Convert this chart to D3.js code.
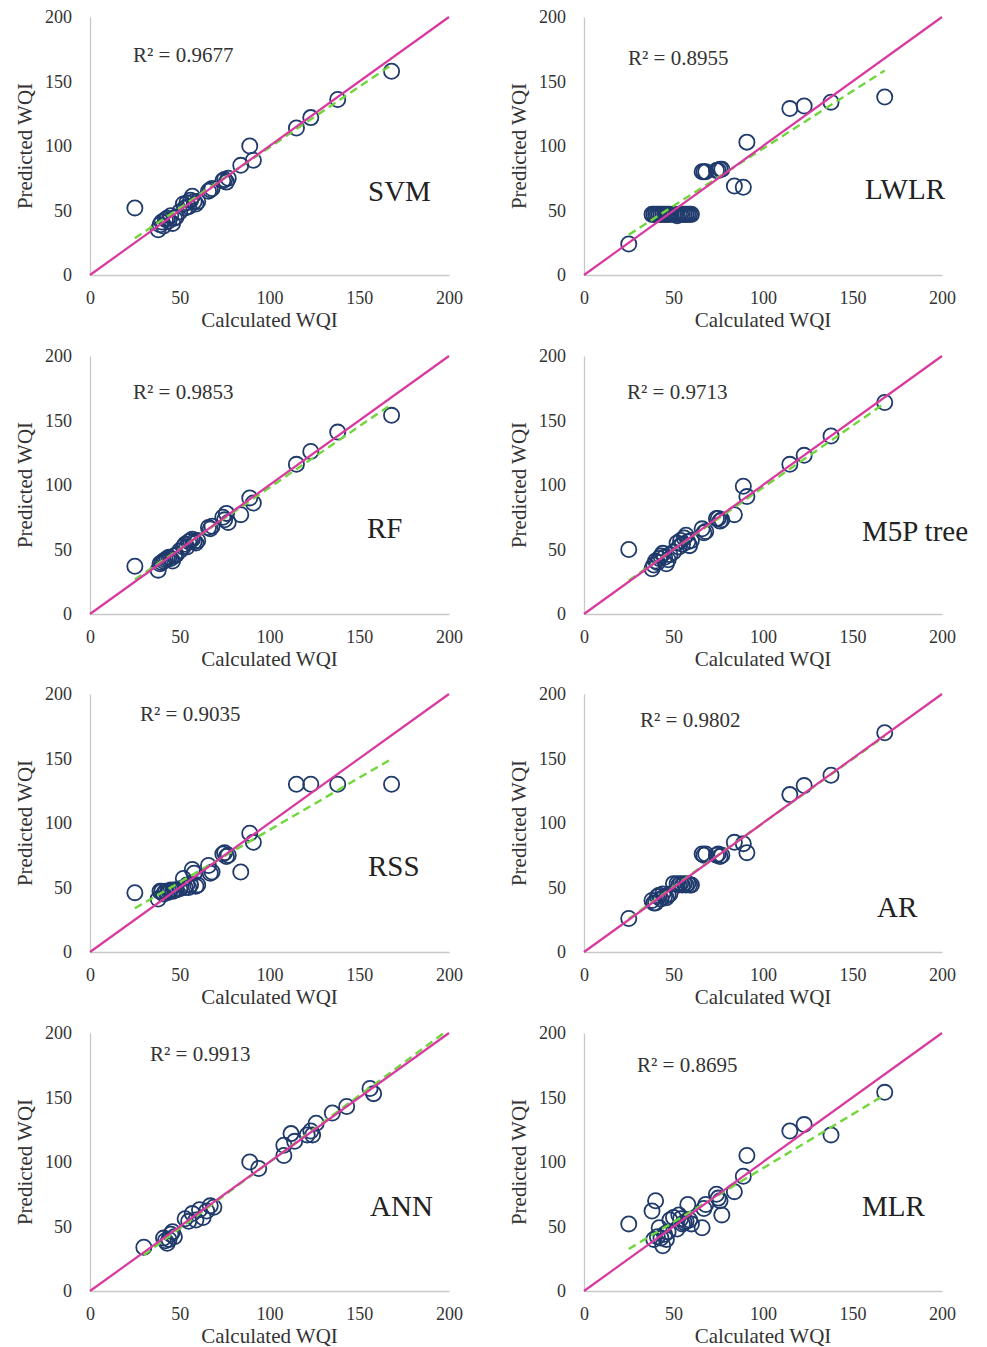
<!DOCTYPE html>
<html><head><meta charset="utf-8">
<script src="https://cdn.jsdelivr.net/npm/d3@7"></script>
<style>body{margin:0;background:#fff}svg{display:block}</style>
</head><body>
<script>
// ---------- DATA ----------
const models = ["SVM", "LWLR", "RF", "M5P tree", "RSS", "AR", "ANN", "MLR"];
const r2Values = ["0.9677", "0.8955", "0.9853", "0.9713", "0.9035", "0.9802", "0.9913", "0.8695"];
const ticks = [0, 50, 100, 150, 200];

const calcX = [25, 38, 39, 40, 41, 42, 43, 44, 45, 46, 47, 48, 50, 52, 53, 54, 55, 56, 57, 58, 59, 60, 66, 67, 68, 74, 75, 76, 77, 84, 89, 91, 115, 123, 138, 168];
const svmPred  = [52, 35, 39, 41, 38, 43, 44, 42, 46, 40, 44, 45, 49, 55, 52, 56, 53, 58, 61, 57, 55, 57, 65, 66, 67, 73, 74, 72, 75, 85, 100, 89, 114, 122, 136, 158];
const lwlrPred = [24, 47, 47, 47, 47, 47, 47, 47, 47, 47, 47, 47, 47, 46, 47, 47, 47, 47, 47, 47, 47, 47, 80, 80, 80, 81, 81, 82, 82, 69, 68, 103, 129, 131, 134, 138];
const rfPred   = [37, 34, 39, 40, 41, 42, 43, 44, 43, 41, 45, 46, 49, 52, 54, 52, 56, 57, 58, 56, 55, 57, 67, 66, 68, 75, 73, 78, 71, 77, 90, 86, 116, 126, 141, 154];
const m5pPred  = [50, 35, 38, 41, 40, 43, 45, 47, 44, 39, 42, 46, 48, 55, 52, 57, 54, 59, 61, 56, 53, 57, 66, 63, 64, 74, 74, 72, 73, 77, 99, 91, 116, 123, 138, 164];
const rssPred  = [46, 41, 47, 47, 45, 47, 46, 47, 48, 47, 48, 48, 49, 57, 50, 52, 50, 52, 64, 61, 51, 52, 67, 61, 62, 76, 77, 74, 75, 62, 92, 85, 130, 130, 130, 130];
const arPred   = [26, 40, 38, 38, 43, 44, 41, 45, 43, 42, 44, 45, 53, 53, 52, 53, 52, 53, 52, 53, 52, 52, 76, 75, 76, 75, 76, 74, 75, 85, 84, 77, 122, 129, 137, 170];
const mlrPred  = [52, 62, 40, 70, 42, 49, 41, 35, 44, 40, 46, 55, 57, 48, 59, 56, 52, 53, 54, 67, 55, 52, 49, 64, 67, 75, 72, 70, 59, 77, 89, 105, 124, 129, 121, 154];
const annCalc  = [30, 41, 42, 43, 44, 45, 46, 47, 53, 55, 57, 59, 61, 63, 65, 67, 69, 89, 94, 108, 108, 112, 114, 121, 123, 124, 126, 135, 143, 156, 158];
const annPred  = [34, 41, 39, 37, 40, 44, 46, 42, 56, 54, 60, 55, 63, 57, 62, 66, 65, 100, 95, 105, 113, 122, 116, 121, 124, 121, 130, 138, 143, 157, 153];

const trendSlope     = [0.94, 0.89, 0.95, 0.96, 0.81, 0.99, 1.03, 0.835];
const trendIntercept = [5, 9, 3, 2, 13.6, 1, -3, 11.7];
const trendStart     = [25, 25, 25, 25, 25, 25, 30, 25];
const trendEnd       = [168, 168, 168, 168, 168, 168, 197, 168];

const panelX = [calcX, calcX, calcX, calcX, calcX, calcX, annCalc, calcX];
const panelY = [svmPred, lwlrPred, rfPred, m5pPred, rssPred, arPred, annPred, mlrPred];

// ---------- LAYOUT ----------
const W = 987, H = 1347;
const colLeft = [90, 584], colRight = [449, 942];
const rowTop = [17, 356, 694, 1033], plotH = 258;
const r2Pos = [[43, 45], [44, 48], [43, 43], [43, 43], [50, 27], [56, 33], [60, 28], [53, 39]];
const labelPos = [[278, 184], [281, 182], [277, 182], [278, 185], [278, 182], [293, 223], [280, 183], [278, 183]];

const FONT = "'Liberation Serif','Times New Roman',serif";
const textCol = "#333";

const svg = d3.select("body").append("svg").attr("width", W).attr("height", H)
  .style("font-family", FONT);
svg.append("rect").attr("width", W).attr("height", H).attr("fill", "#fff");

models.forEach((m, i) => {
  const c = i % 2, r = Math.floor(i / 2);
  const x0 = colLeft[c], x1 = colRight[c], y1 = rowTop[r], y0 = rowTop[r] + plotH;
  const x = d3.scaleLinear().domain([0, 200]).range([x0, x1]);
  const y = d3.scaleLinear().domain([0, 200]).range([y0, y1]);
  const g = svg.append("g");

  // axes
  const xa = g.append("g").attr("transform", `translate(0,${y0})`)
    .call(d3.axisBottom(x).tickValues(ticks).tickSize(0).tickPadding(16));
  const ya = g.append("g").attr("transform", `translate(${x0},0)`)
    .call(d3.axisLeft(y).tickValues(ticks).tickSize(0).tickPadding(18));
  [xa, ya].forEach(a => {
    a.select(".domain").attr("stroke", "#c8c8c8").attr("stroke-width", 1.3);
    a.selectAll("text").attr("font-family", FONT).attr("font-size", 18).attr("fill", textCol);
  });

  // axis titles
  g.append("text").attr("x", (x0 + x1) / 2).attr("y", y0 + 52).attr("text-anchor", "middle")
    .attr("font-size", 21).attr("fill", textCol).text("Calculated WQI");
  g.append("text").attr("transform", `translate(${x0 - 58},${(y0 + y1) / 2}) rotate(-90)`)
    .attr("text-anchor", "middle").attr("font-size", 21).attr("fill", textCol).text("Predicted WQI");

  // points
  const xs = panelX[i], ys = panelY[i];
  g.append("g").selectAll("circle").data(xs.map((v, k) => [v, ys[k]])).join("circle")
    .attr("cx", d => x(d[0])).attr("cy", d => y(d[1])).attr("r", 7.6)
    .attr("fill", "none").attr("stroke", "#1f3a6b").attr("stroke-width", 1.8);

  // trend line
  const tl = [trendStart[i], trendEnd[i]].map(v => [v, trendSlope[i] * v + trendIntercept[i]]);
  g.append("path").attr("d", d3.line().x(d => x(d[0])).y(d => y(d[1]))(tl))
    .attr("stroke", "#6fd63c").attr("stroke-width", 2.4).attr("stroke-dasharray", "8,5").attr("fill", "none");

  // 1:1 line
  g.append("path").attr("d", d3.line().x(d => x(d[0])).y(d => y(d[1]))([[0, 0], [200, 200]]))
    .attr("stroke", "#d9399e").attr("stroke-width", 2.2).attr("fill", "none");

  // R² text
  g.append("text").attr("x", x0 + r2Pos[i][0]).attr("y", y1 + r2Pos[i][1])
    .attr("font-size", 21).attr("fill", textCol).text("R² = " + r2Values[i]);
  // model label
  g.append("text").attr("x", x0 + labelPos[i][0]).attr("y", y1 + labelPos[i][1])
    .attr("font-size", 29).attr("fill", "#222").text(m);
});
</script>
</body></html>
